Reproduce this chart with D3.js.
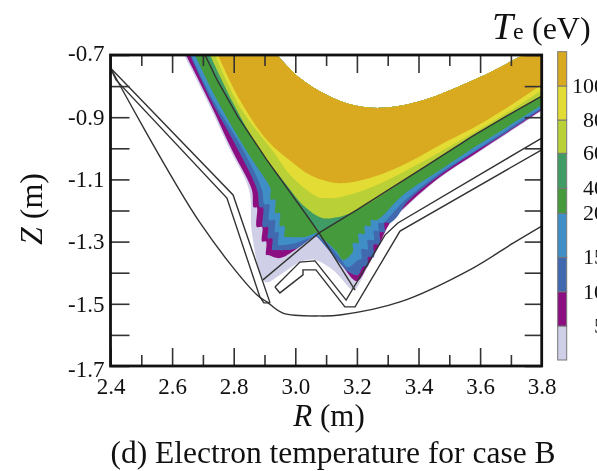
<!DOCTYPE html>
<html>
<head>
<meta charset="utf-8">
<script src="https://cdn.jsdelivr.net/npm/d3@7"></script>
<style>
  html, body { margin: 0; padding: 0; background: #fff; overflow: hidden; }
  text { font-family: "Liberation Serif", serif; fill: #111; }
  svg { filter: blur(0.4px); }
</style>
</head>
<body>
<div id="chart"></div>
<script>
// axis ticks
const rMajor = [2.4, 2.6, 2.8, 3.0, 3.2, 3.4, 3.6, 3.8];
const rMinor = [2.5, 2.7, 2.9, 3.1, 3.3, 3.5, 3.7];
const zMajor = [-0.7, -0.9, -1.1, -1.3, -1.5, -1.7];
const zMinor = [-0.8, -1.0, -1.2, -1.4, -1.6];

// colour bar
const levelEdges = [0, 5, 10, 15, 20, 40, 60, 80, 100, 120];
const levelLabels = [5, 10, 15, 20, 40, 60, 80, 100];
const levelColors = ["#cfcfe8", "#8b0f80", "#4069b0", "#3f8ec6", "#459a3c", "#3f9c64", "#b9d036", "#e3dc35", "#d9a920"];

// upper edge of the plasma, shared by all the bands [R, Z]
const topEdge = [[2.941, -0.7], [3.015, -0.774], [3.096, -0.825], [3.178, -0.858], [3.275, -0.87], [3.395, -0.851],
    [3.502, -0.813], [3.6, -0.771], [3.665, -0.739], [3.746, -0.7], [3.8, -0.7]];

// lower edge of each Te band, right to left
const band100 = [[3.8, -0.796], [3.687, -0.87], [3.577, -0.935], [3.47, -0.989], [3.363, -1.047], [3.252, -1.092],
    [3.145, -1.112], [3.054, -1.089], [2.993, -1.047], [2.908, -0.973], [2.82, -0.845], [2.749, -0.7]];
const band80 = [[3.8, -0.813], [3.687, -0.886], [3.577, -0.951], [3.47, -1.012], [3.363, -1.07], [3.252, -1.124],
    [3.145, -1.157], [3.096, -1.16], [3.074, -1.157], [2.989, -1.092], [2.924, -1.005], [2.82, -0.867], [2.739, -0.7]];
const band60 = [[3.8, -0.832], [3.687, -0.896], [3.577, -0.96], [3.415, -1.063], [3.2, -1.198], [3.139, -1.221],
    [3.087, -1.224], [3.032, -1.189], [2.967, -1.112], [2.885, -1.005], [2.798, -0.854], [2.723, -0.7]];
const band20 = [[3.8, -0.861], [3.687, -0.932], [3.577, -0.999], [3.47, -1.07], [3.35, -1.15], [3.265, -1.231],
    [3.245, -1.231], [3.245, -1.25], [3.225, -1.25], [3.225, -1.275], [3.205, -1.275], [3.205, -1.305], [3.187, -1.305],
    [3.187, -1.333], [3.155, -1.359], [3.135, -1.333], [3.106, -1.305], [3.08, -1.285], [3.074, -1.272],
    [3.032, -1.285], [2.976, -1.285], [2.965, -1.285], [2.965, -1.25], [2.95, -1.25], [2.95, -1.208], [2.935, -1.208],
    [2.935, -1.165], [2.92, -1.165], [2.92, -1.13], [2.911, -1.112], [2.846, -1.015], [2.746, -0.845], [2.674, -0.7]];
const band15 = [[3.8, -0.87], [3.687, -0.941], [3.577, -1.012], [3.47, -1.079], [3.35, -1.173], [3.317, -1.208],
    [3.285, -1.24], [3.27, -1.24], [3.27, -1.265], [3.255, -1.265], [3.255, -1.295], [3.235, -1.295], [3.235, -1.325],
    [3.215, -1.325], [3.215, -1.355], [3.204, -1.359], [3.171, -1.382], [3.145, -1.353], [3.103, -1.305], [3.08, -1.288],
    [3.07, -1.282], [2.999, -1.305], [2.957, -1.311], [2.945, -1.311], [2.945, -1.27], [2.934, -1.27], [2.934, -1.231],
    [2.915, -1.231], [2.915, -1.18], [2.9, -1.18], [2.892, -1.134], [2.83, -1.005], [2.733, -0.845], [2.661, -0.7]];
const band10 = [[3.8, -0.874], [3.687, -0.948], [3.577, -1.015], [3.47, -1.086], [3.363, -1.173], [3.33, -1.221],
    [3.307, -1.24], [3.29, -1.24], [3.29, -1.27], [3.275, -1.27], [3.275, -1.31], [3.255, -1.31], [3.255, -1.35],
    [3.236, -1.35], [3.236, -1.38], [3.22, -1.38], [3.204, -1.407], [3.178, -1.401], [3.135, -1.359], [3.074, -1.288],
    [3.067, -1.282], [3.006, -1.321], [2.973, -1.327], [2.934, -1.327], [2.925, -1.327], [2.925, -1.29], [2.911, -1.29],
    [2.911, -1.253], [2.895, -1.253], [2.895, -1.19], [2.885, -1.19], [2.876, -1.134], [2.814, -1.005],
    [2.726, -0.845], [2.658, -0.7]];
const band5 = [[3.8, -0.877], [3.687, -0.951], [3.577, -1.022], [3.47, -1.092], [3.363, -1.182], [3.307, -1.24],
    [3.269, -1.317], [3.233, -1.382], [3.2, -1.427], [3.139, -1.359], [3.074, -1.288], [3.064, -1.282], [2.999, -1.327],
    [2.95, -1.353], [2.911, -1.343], [2.905, -1.343], [2.905, -1.3], [2.892, -1.3], [2.892, -1.253], [2.875, -1.253],
    [2.875, -1.19], [2.865, -1.19], [2.859, -1.134], [2.794, -1.005], [2.723, -0.854], [2.645, -0.7]];
const band0 = [[3.8, -0.88], [3.687, -0.954], [3.577, -1.025], [3.47, -1.095], [3.363, -1.186], [3.307, -1.243],
    [3.269, -1.321], [3.233, -1.385], [3.197, -1.452], [3.187, -1.456], [3.122, -1.391], [3.064, -1.359], [3.015, -1.366],
    [2.95, -1.407], [2.902, -1.43], [2.859, -1.272], [2.85, -1.134], [2.788, -1.005], [2.717, -0.854], [2.639, -0.7]];

// separatrix
const legUp = [[2.707, -0.7], [2.746, -0.78], [2.814, -0.899], [2.908, -1.038], [3.041, -1.221], [3.077, -1.272]];
const legRight = [[3.077, -1.272], [3.2, -1.198], [3.415, -1.063], [3.577, -0.96], [3.687, -0.896], [3.8, -0.832]];
const legDownLeft = [[3.077, -1.272], [2.895, -1.423]];
const legDownRight = [[3.077, -1.272], [3.194, -1.456]];

// machine walls
const wallA = [[2.4, -0.742], [2.798, -1.15], [2.918, -1.497]];
const wallB = [[2.4, -0.742], [2.418, -0.78], [2.778, -1.16], [2.885, -1.478], [2.898, -1.497], [2.918, -1.497]];
const vessel = [[2.4, -0.742], [2.691, -1.24], [2.876, -1.472], [2.908, -1.494], [2.96, -1.53], [3.087, -1.539],
    [3.145, -1.536], [3.34, -1.494], [3.577, -1.385], [3.707, -1.305], [3.8, -1.25]];
const domeUpper = [[2.934, -1.446], [3.015, -1.366], [3.064, -1.362], [3.165, -1.488], [3.291, -1.279], [3.333, -1.24], [3.8, -0.967]];
const domeLower = [[2.934, -1.446], [2.95, -1.465], [3.025, -1.407], [3.025, -1.391], [3.067, -1.391], [3.161, -1.51],
    [3.194, -1.51], [3.34, -1.266], [3.8, -1.005]];

let margin = { top: 55, right: 55.3, bottom: 105, left: 110.5 };
let width = 597 - margin.left - margin.right;
let height = 471 - margin.top - margin.bottom;

let root = d3.select("#chart")
    .append("svg")
    .attr("width", 597)
    .attr("height", 471)
    .style("display", "block");

let svg = root.append("g")
    .attr("transform", "translate(" + margin.left + "," + margin.top + ")");

let x = d3.scaleLinear().domain([2.4, 3.8]).range([0, width]);
let y = d3.scaleLinear().domain([-0.7, -1.7]).range([0, height]);

let line = d3.line().x(d => x(d[0])).y(d => y(d[1]));
let smoothLine = d3.line().x(d => x(d[0])).y(d => y(d[1])).curve(d3.curveCatmullRom.alpha(0.5));

root.append("defs").append("clipPath")
    .attr("id", "plot-clip")
    .append("rect")
    .attr("width", width)
    .attr("height", height);

let plot = svg.append("g").attr("clip-path", "url(#plot-clip)");

// bands go outermost first, inner ones paint on top
let tealEdge = legRight.slice().reverse().concat(legUp.slice().reverse().slice(1));
let bands = [band0, band5, band10, band15, band20, tealEdge, band60, band80, band100];

plot.selectAll(".band")
    .data(bands)
    .join("path")
    .attr("class", "band")
    .attr("d", d => {
        // straight joins at the frame, splines along the contours
        let lower = d === tealEdge ? line(d) : smoothLine(d);
        return smoothLine(topEdge) + "L" + lower.slice(1) + "Z";
    })
    .attr("fill", (d, i) => levelColors[i]);

// walls and separatrix
plot.selectAll(".wall")
    .data([wallA, wallB, domeUpper, domeLower])
    .join("path")
    .attr("class", "wall")
    .attr("d", line)
    .attr("fill", "none")
    .attr("stroke", "#333")
    .attr("stroke-width", 1.4);

plot.append("path")
    .attr("d", smoothLine(vessel))
    .attr("fill", "none")
    .attr("stroke", "#333")
    .attr("stroke-width", 1.4);

plot.selectAll(".leg")
    .data([legUp, legRight, legDownLeft, legDownRight])
    .join("path")
    .attr("class", "leg")
    .attr("d", line)
    .attr("fill", "none")
    .attr("stroke", "#333")
    .attr("stroke-width", 1.4);

// axes, ticks point inwards on all four sides
function styleTicks(g) {
    g.select(".domain").remove();
    g.selectAll("line").attr("stroke", "#333").attr("stroke-width", 1.6);
    g.selectAll("text").style("font-size", "23px").attr("fill", "#111");
}

svg.append("g")
    .attr("transform", "translate(0," + height + ")")
    .call(d3.axisBottom(x).tickValues(rMajor).tickSize(-18).tickPadding(12).tickFormat(d => d.toFixed(1)))
    .call(styleTicks);
svg.append("g")
    .attr("transform", "translate(0," + height + ")")
    .call(d3.axisBottom(x).tickValues(rMinor).tickSize(-11).tickFormat(""))
    .call(styleTicks);
svg.append("g")
    .call(d3.axisTop(x).tickValues(rMajor).tickSize(-18).tickFormat(""))
    .call(styleTicks);
svg.append("g")
    .call(d3.axisTop(x).tickValues(rMinor).tickSize(-11).tickFormat(""))
    .call(styleTicks);

let leftAxis = svg.append("g")
    .call(d3.axisLeft(y).tickValues(zMajor).tickSize(-19).tickPadding(6).tickFormat(d => d.toFixed(1)))
    .call(styleTicks);
// end labels sit a little off their ticks in the original
leftAxis.selectAll("text")
    .attr("dy", d => d === -0.7 ? "0.22em" : d === -1.7 ? "0.46em" : "0.32em");
svg.append("g")
    .call(d3.axisLeft(y).tickValues(zMinor).tickSize(-19).tickFormat(""))
    .call(styleTicks);
svg.append("g")
    .attr("transform", "translate(" + width + ",0)")
    .call(d3.axisRight(y).tickValues(zMajor.concat(zMinor)).tickSize(-17).tickFormat(""))
    .call(styleTicks);

// frame
svg.append("rect")
    .attr("width", width)
    .attr("height", height)
    .attr("fill", "none")
    .attr("stroke", "#111")
    .attr("stroke-width", 2.8);

// axis titles
let rTitle = root.append("text")
    .attr("x", 329)
    .attr("y", 426)
    .attr("text-anchor", "middle")
    .style("font-size", "31px");
rTitle.append("tspan").style("font-style", "italic").text("R");
rTitle.append("tspan").text(" (m)");

let zTitle = root.append("text")
    .attr("transform", "translate(42,209) rotate(-90)")
    .attr("text-anchor", "middle")
    .style("font-size", "32px");
zTitle.append("tspan").style("font-style", "italic").text("Z");
zTitle.append("tspan").text(" (m)");

root.append("text")
    .attr("x", 333)
    .attr("y", 463)
    .attr("text-anchor", "middle")
    .style("font-size", "31.5px")
    .text("(d) Electron temperature for case B");

// colour bar
let barY = d3.scaleLinear()
    .domain(levelEdges)
    .range([360, 326, 291.7, 257.3, 213.3, 188.3, 153.3, 120, 86, 51.7]);

let bar = root.append("g");
bar.selectAll("rect")
    .data(levelColors)
    .join("rect")
    .attr("x", 557.7)
    .attr("width", 9)
    .attr("y", (d, i) => barY(levelEdges[i + 1]))
    .attr("height", (d, i) => barY(levelEdges[i]) - barY(levelEdges[i + 1]))
    .attr("fill", d => d)
    .attr("stroke", "#777")
    .attr("stroke-width", 1);

root.selectAll(".level-label")
    .data(levelLabels)
    .join("text")
    .attr("class", "level-label")
    .attr("x", 605)
    .attr("y", d => barY(d))
    .attr("dy", "0.32em")
    .attr("text-anchor", "end")
    .style("font-size", "22px")
    .text(d => d);

// Te (eV) heading
root.append("text")
    .attr("x", 492)
    .attr("y", 39)
    .style("font-size", "38px")
    .style("font-style", "italic")
    .text("T");
root.append("text")
    .attr("x", 513)
    .attr("y", 39)
    .style("font-size", "24px")
    .text("e");
root.append("text")
    .attr("x", 532)
    .attr("y", 39)
    .style("font-size", "32px")
    .text("(eV)");
</script>
</body>
</html>
